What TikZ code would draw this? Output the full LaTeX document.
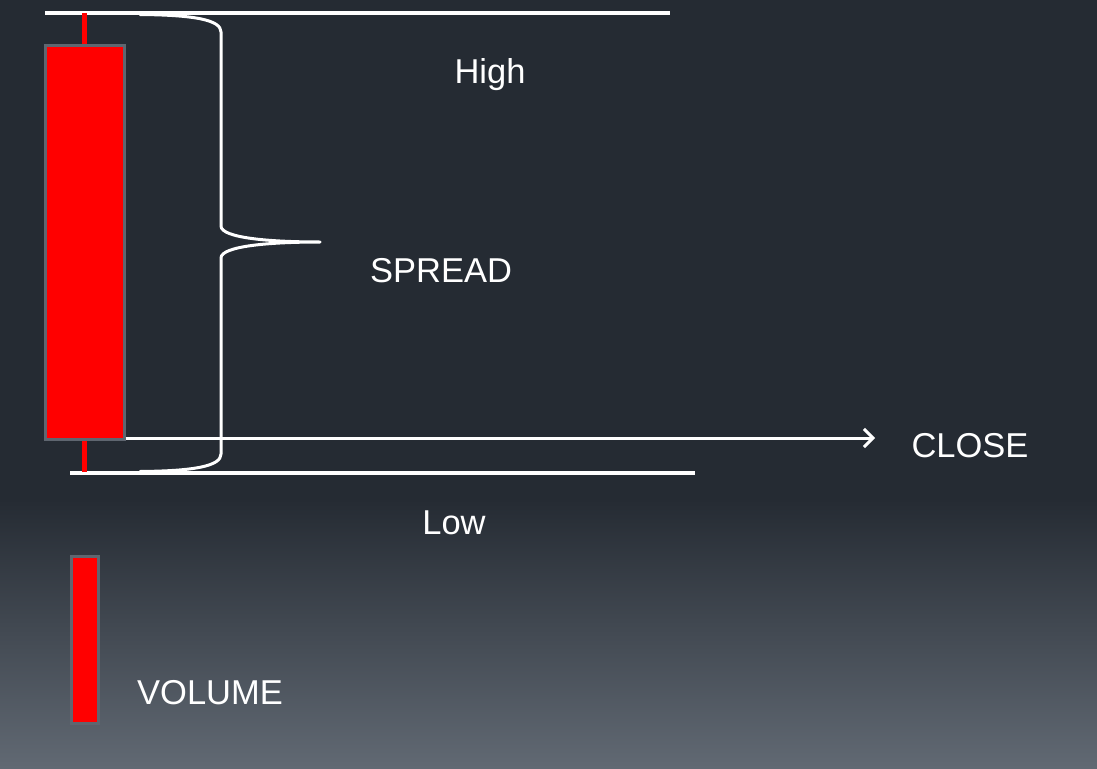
\documentclass[tikz,border=0pt]{standalone}
\usepackage{fontspec}
\setmainfont{Liberation Sans}
\usetikzlibrary{arrows.meta}
\definecolor{bgtop}{RGB}{37,43,51}
\definecolor{bgbot}{RGB}{97,105,115}
\definecolor{edgegray}{RGB}{95,102,112}
\definecolor{candlered}{RGB}{255,0,0}
\tikzset{
  lbl/.style={text=white,font=\fontsize{34.5}{40}\selectfont,inner sep=0pt},
  bar/.style={draw=edgegray,line width=3pt,fill=candlered,inner sep=0pt,rectangle},
  wick/.style={draw=candlered,line width=5pt},
  level/.style={draw=white,line width=4pt},
  brace/.style={draw=white,line width=3pt,line cap=round,line join=round},
}
\begin{document}
\begin{tikzpicture}[x=1pt,y=-1pt]
\useasboundingbox (0,0) rectangle (1097,768);
\fill[bgtop] (0,0) rectangle (1097,500);
\shade[top color=bgtop,bottom color=bgbot] (0,499) rectangle (1097,768);
% levels
\coordinate (hiL) at (45,13);
\coordinate (hiR) at (670,13);
\coordinate (loL) at (70,473);
\coordinate (loR) at (695,473);
\draw[level] (hiL) -- (hiR);
\draw[level] (loL) -- (loR);
% candle
\node[bar,minimum width=79pt,minimum height=393pt] (body) at (84.5,242.5) {};
\coordinate (wtop) at (84.5,13);
\coordinate (wbot) at (84.5,472);
\draw[wick] (wtop) -- (body.north);
\draw[wick] (body.south) -- (wbot);
% close arrow
\coordinate (closeend) at (875,438);
\draw[white,line width=3pt,-{Straight Barb[length=9pt,width=18pt,line width=3pt]}] (body.south east |- closeend) -- (closeend);
% brace
\draw[brace] (140,14.5) .. controls (195,15) and (221,20) .. (221,32) -- (221,226)
  .. controls (221,238) and (270,242) .. (320,242)
  .. controls (270,242) and (221,246) .. (221,258) -- (221,454)
  .. controls (221,466) and (195,471) .. (140,471.5);
% volume
\node[bar,minimum width=27pt,minimum height=167pt] (vol) at (84.5,639.5) {};
% labels
\node[lbl] (high) at (490,75) {High};
\node[lbl] (spread) at (441,271) {SPREAD};
\node[lbl] (close) at (970,446) {CLOSE};
\node[lbl] (low) at (454,523) {Low};
\node[lbl] (volume) at (210,693) {VOLUME};
\end{tikzpicture}
\end{document}
